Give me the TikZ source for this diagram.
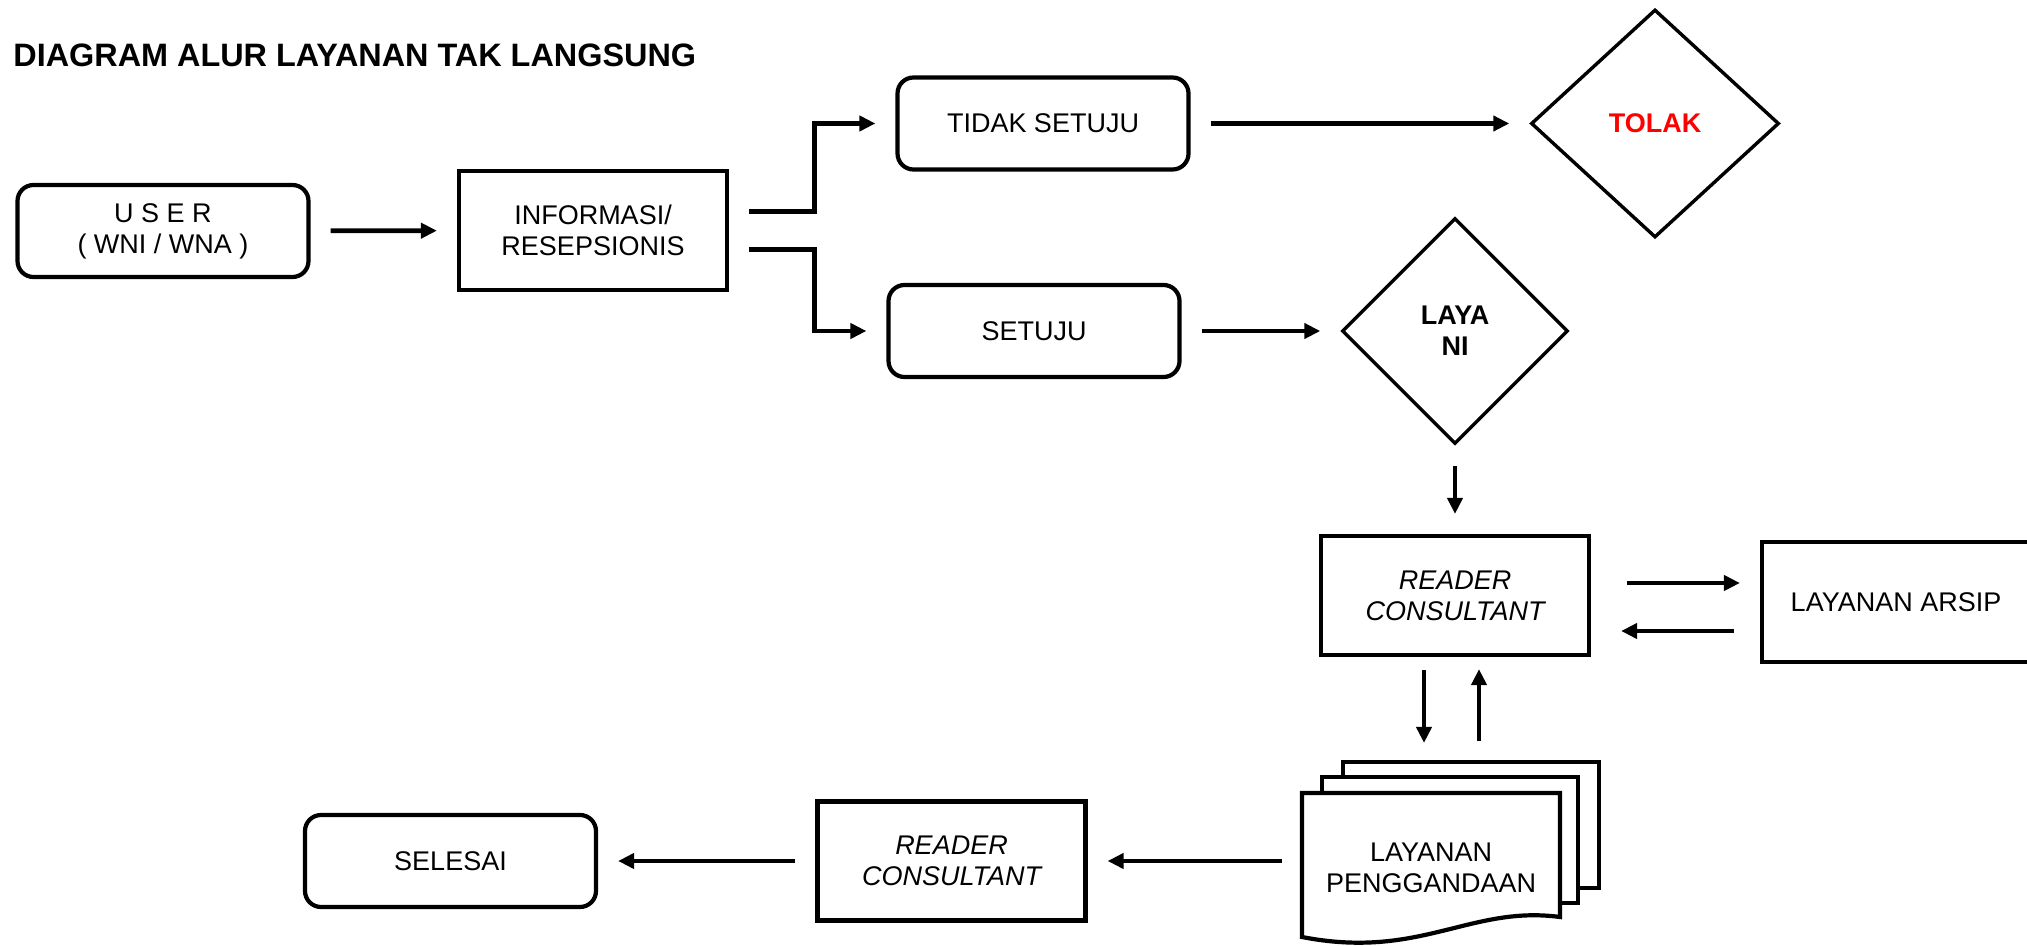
\documentclass[tikz,border=0pt]{standalone}
\usepackage{fontspec}
\setmainfont{Liberation Sans}
\usetikzlibrary{shapes.geometric,arrows.meta}
\newcommand{\bodysize}{\fontsize{13.5pt}{15.5pt}\selectfont}
\newcommand{\titlesize}{\fontsize{16.2pt}{19pt}\selectfont\bfseries}

\begin{document}
\begin{tikzpicture}[x=0.5pt,y=-0.5pt,
  every node/.style={font=\bodysize},
  box/.style={draw, line width=2.1pt, align=center, inner sep=0pt, minimum width=134pt, minimum height=59.5pt},
  rbox/.style={box, rounded corners=8pt, minimum width=145.5pt, minimum height=46pt},
  choice/.style={draw, diamond, line width=1.7pt, inner sep=0pt, align=center, font=\bodysize\bfseries},
  page/.style={draw, fill=white, line width=2.1pt, inner sep=0pt, minimum width=128pt, minimum height=63pt},
  flow/.style={line width=2.4pt, -{Triangle[length=8pt,width=7.5pt]}, shorten <=10pt, shorten >=10pt}]
\clip (0,0) rectangle (2027,946);
\node[anchor=base west, inner sep=0pt, font=\titlesize] (title) at (13,67) {DIAGRAM ALUR LAYANAN TAK LANGSUNG};
\node[rbox] (user) at (163,231) {U S E R\\( WNI / WNA )};
\node[box] (info) at (593,230.5) {INFORMASI/\\RESEPSIONIS};
\node[rbox] (tidak) at (1043,123.5) {TIDAK SETUJU};
\node[rbox] (setuju) at (1034,331) {SETUJU};
\node[choice, text=red, minimum width=124pt, minimum height=114pt] (tolak) at (1655,123.5) {TOLAK};
\node[choice, minimum width=113pt, minimum height=113pt] (layani) at (1455,331) {LAYA\\NI};
\node[box, font=\bodysize\itshape] (rc1) at (1455,595.5) {READER\\CONSULTANT};
\node[box, minimum height=60pt] (arsip) at (1896,602) {LAYANAN ARSIP};
\node[box, font=\bodysize\itshape] (rc2) at (951.5,861) {READER\\CONSULTANT};
\node[rbox] (selesai) at (450.5,861) {SELESAI};

\node[page] (back) at (1471,825) {};
\node[page] (mid) at (1450,840) {};
\path[draw, fill=white, line width=2.1pt] (1302,793) -- (1560,793) -- (1560,917)
  .. controls (1470,905) and (1420,960) .. (1302,937) -- cycle;
\node[align=center, inner sep=0pt, minimum width=129pt, minimum height=73pt] (peng) at (1431,868) {LAYANAN\\PENGGANDAAN};

\path[draw,flow] (user) -- (info);
\path[draw,flow] ([yshift=9.5pt]info.east) -- ++(85,0) |- (tidak.west);
\path[draw,flow] ([yshift=-9.5pt]info.east) -- ++(85,0) |- (setuju.west);
\path[draw,flow] (tidak) -- (tolak);
\path[draw,flow] (setuju) -- (layani);
\path[draw,flow] (layani) -- (rc1);
\path[draw,flow,shorten <=18pt] (rc1.east |- 0,583) -- (arsip.west |- 0,583);
\path[draw,flow,shorten <=13pt,shorten >=15pt] (arsip.west |- 0,631) -- (rc1.east |- 0,631);
\path[draw,flow,shorten <=6.5pt,shorten >=8.5pt] (rc1.south -| 1424,0) -- (back.north -| 1424,0);
\path[draw,flow,shorten <=9.5pt,shorten >=6pt] (back.north -| 1479,0) -- (rc1.south -| 1479,0);
\path[draw,flow] (peng.west |- rc2.east) -- (rc2.east);
\path[draw,flow] (rc2) -- (selesai);
\end{tikzpicture}
\end{document}
